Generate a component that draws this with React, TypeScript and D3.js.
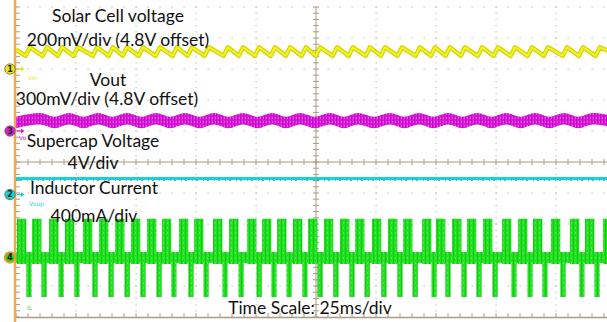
import * as d3 from 'd3';

const W = 607;
const H = 322;

// scope timebase: 25 ms/div, 10 divisions; 10 vertical divisions
const timeDomain = [0, 250];
const divDomain = [-5, 5];

// Ch1 solar cell voltage: sawtooth peak times (ms) and valley/peak levels (V)
const solarPeakMs = [5.8, 12.9, 19.2, 25.8, 33.8, 40.4, 46.3, 52.9, 60.0, 67.1, 73.3, 80.4, 88.3, 94.6, 101.3, 107.9, 114.2, 120.8, 126.7, 133.8, 140.4, 147.5, 153.8, 160.8, 168.3, 174.6, 180.8, 187.1, 194.2, 200.8, 207.9, 215.0, 221.7, 229.6, 236.3, 243.3];
const solarLevelsV = [4.885, 4.94];
const solarRiseMs = 1.8;

// Ch3 Vout: ripple hump times (ms), low/high centre level and noise half-band (V)
const voutHumpMs = [10.0, 22.1, 34.2, 46.3, 58.3, 70.4, 82.5, 94.6, 106.7, 118.3, 130.8, 142.5, 155.8, 167.9, 180.0, 192.1, 204.2, 216.3, 228.3, 240.4];
const voutLevelsV = [4.882, 4.918];
const voutNoiseV = 0.055;

// Ch2 supercap voltage (V)
const supercapV = 2.07;

// Ch4 inductor current: burst start times (ms) and levels (A)
const inductorPulseMs = [0.4, 6.7, 13.8, 20.4, 27.9, 34.6, 41.3, 47.9, 54.6, 60.8, 67.9, 74.2, 82.1, 88.8, 96.3, 102.5, 108.8, 115.4, 121.7, 128.3, 135.0, 141.3, 148.3, 155.0, 161.3, 169.2, 175.0, 181.7, 187.9, 194.6, 202.5, 209.2, 215.4, 222.9, 230.8, 237.1, 244.6];
const inductorPosA = [0.5, -0.084];
const inductorNegA = [0.07, -0.51];
const inductorRippleA = 0.07;
const posWidthMs = 3.9;
const negDelayMs = 3.9;
const negWidthMs = 2.2;

const labelTexts = ['Solar Cell voltage', '200mV/div (4.8V offset)', 'Vout', '300mV/div (4.8V offset)', 'Supercap Voltage', '4V/div', 'Inductor Current', '400mA/div', 'Time Scale: 25ms/div'];
const labelPos = [[118, 22], [118, 46], [108, 86], [107, 105], [93, 147], [93, 169], [94, 194], [94, 222], [310, 314]];

const channels = [
  { id: 1, name: 'Vin', color: '#e8e810', offset: 4.8, perDiv: 0.2, pos: 3 },
  { id: 3, name: 'Vo', color: '#dc1adc', offset: 4.8, perDiv: 0.3, pos: 1 },
  { id: 2, name: 'Vsup', color: '#14d4d4', offset: 0, perDiv: 4, pos: -1.05 },
  { id: 4, name: 'IL', color: '#1ed81e', offset: 0, perDiv: 0.4, pos: -3.08 },
];
const tagPos = [[28, 80], [19, 140], [29, 206], [27, 310]];

const x = d3.scaleLinear().domain(timeDomain).range([16, 616]);
const yDiv = d3.scaleLinear().domain(divDomain).range([317, 7]);
const chY = (ch, v) => yDiv(ch.pos + (v - ch.offset) / ch.perDiv);

const App = () => {
  const [ch1, ch3, ch2, ch4] = channels;

  // grid
  const gridMs = d3.range(25, 250, 25).filter((t) => t !== 125);
  const gridDivs = d3.range(-4, 6).filter((d) => d !== 0);
  const minorDivs = d3.range(-5, 5.001, 0.2);
  const minorMs = d3.range(0, 250.001, 5);

  // ch1 sawtooth
  const solarPts = [[0, 4.925]];
  solarPeakMs.forEach((t) => {
    solarPts.push([t - solarRiseMs, solarLevelsV[0]]);
    solarPts.push([t, solarLevelsV[1]]);
  });
  solarPts.push([250, solarLevelsV[0] + 0.01]);
  const solarLine = d3.line().x((d) => x(d[0])).y((d) => chY(ch1, d[1]))(solarPts);

  // ch3 noisy band
  const voutPts = [[0, voutLevelsV[0]]];
  voutHumpMs.forEach((t, i) => {
    voutPts.push([t, voutLevelsV[1]]);
    const next = voutHumpMs[i + 1];
    if (next !== undefined) voutPts.push([(t + next) / 2, voutLevelsV[0]]);
  });
  voutPts.push([250, voutLevelsV[0]]);
  const voutArea = d3
    .area()
    .curve(d3.curveMonotoneX)
    .x((d) => x(d[0]))
    .y0((d) => chY(ch3, d[1] - voutNoiseV))
    .y1((d) => chY(ch3, d[1] + voutNoiseV))(voutPts);

  const supY = chY(ch2, supercapV);

  return (
    <svg width={W} height={H} style={{ display: 'block', position: 'absolute', left: 0, top: 0, background: '#fff' }}>
      <defs>
        <pattern id="pmag" width="3" height="4" patternUnits="userSpaceOnUse">
          <rect width="3" height="4" fill="#dc1adc" />
          <rect x="0" width="1" height="4" fill="#c00ec0" />
          <rect x="2" y="1" width="1" height="2" fill="#ee50ee" />
        </pattern>
        <pattern id="pgrn" width="4" height="5" patternUnits="userSpaceOnUse">
          <rect width="4" height="5" fill="#22e022" />
          <rect x="1" width="1" height="5" fill="#14c814" />
          <rect x="3" y="2" width="1" height="2" fill="#48ec48" />
        </pattern>
      </defs>
      <rect width={W} height={H} fill="#fff" />

      {/* dotted grid */}
      <g fill="#bdbdbd">
        {gridMs.map((t) =>
          minorDivs.map((d) => <rect key={`v${t}-${d}`} x={x(t) - 0.5} y={yDiv(d) - 0.5} width={1.2} height={1.2} />)
        )}
        {gridDivs.map((d) =>
          minorMs.map((t) => <rect key={`h${d}-${t}`} x={x(t) - 0.5} y={yDiv(d) - 0.5} width={1.2} height={1.2} />)
        )}
      </g>
      {/* centre axes with ticks */}
      <g stroke="#aa9c80" strokeWidth={1}>
        <line x1={x(125)} x2={x(125)} y1={yDiv(5)} y2={yDiv(-5)} />
        <line x1={x(0)} x2={x(250)} y1={yDiv(0)} y2={yDiv(0)} />
        {minorDivs.map((d) => (
          <line key={`cv${d}`} x1={x(125) - 3} x2={x(125) + 3} y1={yDiv(d)} y2={yDiv(d)} />
        ))}
        {minorMs.map((t) => (
          <line key={`ch${t}`} x1={x(t)} x2={x(t)} y1={yDiv(0) - 3} y2={yDiv(0) + 3} />
        ))}
        {/* bottom frame */}
        <line x1={x(0)} x2={x(250)} y1={yDiv(-5) + 0.5} y2={yDiv(-5) + 0.5} strokeWidth={1.5} />
        {minorMs.map((t) => (
          <line key={`b${t}`} x1={x(t)} x2={x(t)} y1={yDiv(-5)} y2={yDiv(-5) - 4} />
        ))}
        {minorDivs.map((d) => (
          <line key={`l${d}`} x1={x(0)} x2={x(0) + 4} y1={yDiv(d)} y2={yDiv(d)} />
        ))}
      </g>

      {/* ch1 solar cell voltage */}
      <path d={solarLine} fill="none" stroke="#d4d400" strokeWidth={4.5} strokeLinejoin="round" />
      <path d={solarLine} fill="none" stroke="#f2f22c" strokeWidth={2} strokeLinejoin="round" />

      {/* ch3 Vout */}
      <path d={voutArea} fill="url(#pmag)" />

      {/* ch2 supercap */}
      <line x1={x(0)} x2={x(250)} y1={supY} y2={supY} stroke="#14d4d4" strokeWidth={3.2} />
      <line x1={x(0)} x2={x(250)} y1={supY + 1.8} y2={supY + 1.8} stroke="#0a8f9a" strokeWidth={0.8} strokeDasharray="1 3 2 5" />

      {/* ch4 inductor current */}
      <g fill="url(#pgrn)">
        <rect
          x={x(0)}
          width={x(250) - x(0)}
          y={chY(ch4, inductorRippleA)}
          height={chY(ch4, -inductorRippleA) - chY(ch4, inductorRippleA)}
        />
        {inductorPulseMs.map((t) => (
          <g key={`p${t}`}>
            <rect
              x={x(t)}
              width={x(t + posWidthMs) - x(t)}
              y={chY(ch4, inductorPosA[0])}
              height={chY(ch4, inductorPosA[1]) - chY(ch4, inductorPosA[0])}
            />
            <rect
              x={x(t + negDelayMs)}
              width={x(t + negDelayMs + negWidthMs) - x(t + negDelayMs)}
              y={chY(ch4, inductorNegA[0])}
              height={chY(ch4, inductorNegA[1]) - chY(ch4, inductorNegA[0])}
            />
          </g>
        ))}
      </g>

      {/* labels */}
      <g fontFamily="Lato, 'Open Sans', sans-serif" fontSize={17.5} fill="#111" textAnchor="middle">
        {labelTexts.map((t, i) => (
          <text key={t} x={labelPos[i][0]} y={labelPos[i][1]}>
            {t}
          </text>
        ))}
      </g>

      {/* left frame */}
      <line x1={15} x2={15} y1={0} y2={H} stroke="#f2a850" strokeWidth={2.5} />

      {/* channel markers */}
      {channels.map((ch, i) => {
        const cy = yDiv(ch.pos);
        return (
          <g key={ch.id}>
            <circle cx={10} cy={cy} r={5.2} fill={ch.color} stroke={ch.id === 4 ? '#f0962a' : '#666'} strokeWidth={ch.id === 4 ? 2 : 0.8} />
            <text x={10} y={cy + 2.8} fontSize={8} fontFamily="DejaVu Sans" fontWeight="bold" textAnchor="middle" fill="#222">
              {ch.id}
            </text>
            <line x1={17} x2={22} y1={cy} y2={cy} stroke={ch.color} strokeWidth={1.2} />
            <path d={`M21,${cy - 2.5}L24.5,${cy}L21,${cy + 2.5}Z`} fill={ch.color} />
            <text x={tagPos[i][0]} y={tagPos[i][1]} fontSize={6} fontFamily="DejaVu Sans" fill={ch.color}>
              {ch.name}
            </text>
          </g>
        );
      })}
    </svg>
  );
};

export default App;
